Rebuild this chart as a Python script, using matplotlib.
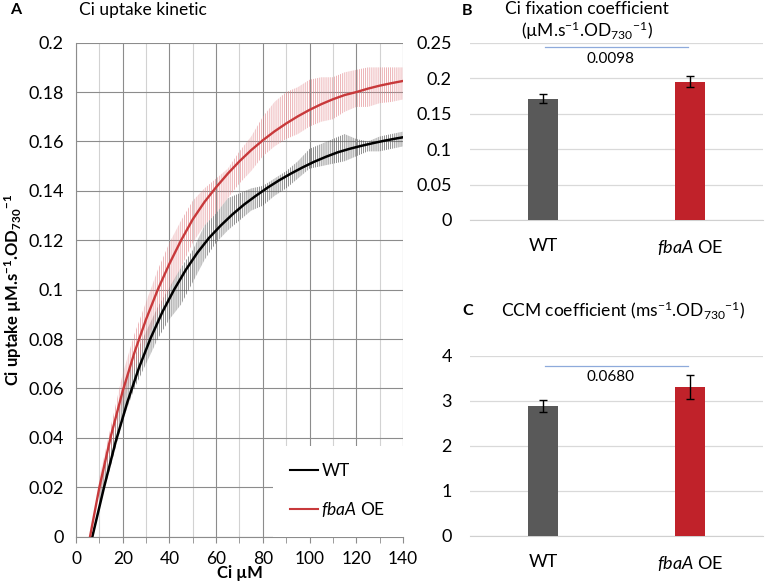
import numpy as np
import matplotlib
matplotlib.use("Agg")
import matplotlib.pyplot as plt
from matplotlib.lines import Line2D

plt.rcParams['font.family'] = ['Lato', 'DejaVu Sans']
plt.rcParams['mathtext.fontset'] = 'custom'
plt.rcParams['mathtext.rm'] = 'Lato'
plt.rcParams['mathtext.it'] = 'Lato:italic'
plt.rcParams['mathtext.bf'] = 'Lato:bold'
plt.rcParams['hatch.linewidth'] = 0.55

# ---- Panel A: Ci uptake kinetic (fit lines) ----
wt_fit_x = [7, 12, 17, 22, 27, 32, 37, 42, 47, 52, 57, 62, 67, 72, 77, 82, 87, 92, 97, 102,
            107, 112, 117, 122, 127, 132, 137, 140]
wt_fit_y = [0.0, 0.02, 0.0385, 0.0545, 0.0685, 0.0805, 0.091, 0.100, 0.108, 0.115, 0.121,
            0.126, 0.1305, 0.1345, 0.138, 0.1413, 0.1443, 0.147, 0.1495, 0.1518, 0.1538,
            0.1556, 0.157, 0.1582, 0.1593, 0.1603, 0.1612, 0.1617]
oe_fit_x = [6, 10, 15, 20, 25, 30, 35, 40, 45, 50, 55, 60, 65, 70, 75, 80, 85, 90, 95, 100,
            105, 110, 115, 120, 125, 130, 135, 140]
oe_fit_y = [0.0, 0.02, 0.041, 0.059, 0.0745, 0.088, 0.100, 0.1105, 0.120, 0.1285, 0.1355,
            0.1415, 0.147, 0.152, 0.1565, 0.1605, 0.1641, 0.1673, 0.1702, 0.1728, 0.1751,
            0.1771, 0.1788, 0.180, 0.1814, 0.1826, 0.1836, 0.1845]

# error envelopes of the measured traces
band_x = [10, 15, 20, 25, 30, 35, 40, 45, 50, 55, 60, 65, 70, 75, 80, 85, 90, 95, 100,
          105, 110, 115, 120, 125, 130, 135, 140]
wt_low = [0.012, 0.029, 0.047, 0.060, 0.070, 0.080, 0.088, 0.094, 0.103, 0.112, 0.119, 0.124,
          0.128, 0.132, 0.134, 0.138, 0.141, 0.145, 0.149, 0.150, 0.151, 0.152, 0.154, 0.156,
          0.156, 0.157, 0.158]
wt_high = [0.020, 0.041, 0.060, 0.073, 0.083, 0.093, 0.101, 0.109, 0.116, 0.126, 0.131, 0.137,
           0.139, 0.141, 0.142, 0.145, 0.148, 0.152, 0.157, 0.159, 0.161, 0.163, 0.161, 0.160,
           0.162, 0.163, 0.164]
oe_low = [0.016, 0.035, 0.054, 0.068, 0.079, 0.090, 0.100, 0.109, 0.119, 0.126, 0.131, 0.137,
          0.143, 0.148, 0.154, 0.158, 0.161, 0.163, 0.166, 0.168, 0.169, 0.172, 0.174, 0.174,
          0.1755, 0.176, 0.177]
oe_high = [0.024, 0.045, 0.066, 0.082, 0.095, 0.108, 0.119, 0.128, 0.136, 0.141, 0.145, 0.149,
           0.156, 0.162, 0.170, 0.176, 0.180, 0.182, 0.185, 0.186, 0.186, 0.188, 0.189, 0.190,
           0.190, 0.190, 0.190]

# ---- Panels B and C: bars ----
groups = ["WT", r"$\it{fbaA}$ OE"]
fix_vals = [0.171, 0.195]
fix_err = [0.006, 0.0075]
fix_p = "0.0098"
ccm_vals = [2.88, 3.30]
ccm_err = [0.13, 0.265]
ccm_p = "0.0680"

red = "#c8393b"
bar_cols = ["#595959", "#c0222a"]

fig = plt.figure(figsize=(7.67, 5.88), dpi=100)

# Panel A
axA = fig.add_axes([0.0991, 0.0873, 0.4263, 0.8401])
axA.fill_between(band_x, wt_low, wt_high, facecolor='none', edgecolor=(0.3, 0.3, 0.3, 0.8),
                 hatch='||||||||', linewidth=0)
axA.fill_between(band_x, oe_low, oe_high, facecolor='none', edgecolor=(0.88, 0.5, 0.52, 0.75),
                 hatch='||||||||', linewidth=0)
axA.plot(wt_fit_x, wt_fit_y, color='black', lw=1.8, zorder=4)
axA.plot(oe_fit_x, oe_fit_y, color=red, lw=1.7, zorder=4)
axA.set_xlim(0, 140)
axA.set_ylim(0, 0.2)
axA.set_xticks(np.arange(0, 141, 20))
axA.set_xticks(np.arange(10, 141, 20), minor=True)
axA.set_yticks(np.arange(0, 0.201, 0.02))
axA.set_yticklabels(["0", "0.02", "0.04", "0.06", "0.08", "0.1", "0.12", "0.14", "0.16", "0.18", "0.2"])
axA.grid(which='major', color='#8c8c8c', lw=0.8)
axA.grid(which='minor', axis='x', color='#d2d2d2', lw=0.8)
axA.set_axisbelow(True)
for s in ['top', 'right']:
    axA.spines[s].set_visible(False)
for s in ['left', 'bottom']:
    axA.spines[s].set_color('#8c8c8c')
axA.tick_params(axis='y', length=0, pad=9, labelsize=13)
axA.tick_params(axis='x', which='both', length=4, color='#8c8c8c', pad=6, labelsize=12.5)
axA.set_xlabel("Ci µM", fontweight='bold', fontsize=12, labelpad=-1)
axA.set_ylabel(r"Ci uptake µM.s$^{\mathbf{-1}}$.OD$_{\mathbf{730}}$$^{\mathbf{-1}}$",
               fontweight='bold', fontsize=12, labelpad=3)
handles = [Line2D([], [], color='black', lw=1.5), Line2D([], [], color=red, lw=1.5)]
leg = axA.legend(handles, ["WT", r"$\it{fbaA}$ OE"], loc='lower right', fontsize=12.5,
                 frameon=True, fancybox=False, framealpha=1, edgecolor='white',
                 handlelength=1.6, handletextpad=0.2, labelspacing=1.2,
                 borderpad=1.0, borderaxespad=0.0)
leg.get_frame().set_linewidth(0)

fig.text(10 / 767, 1 - 10 / 588, "A", fontweight='bold', fontsize=11.5, va='center')
fig.text(79 / 767, 1 - 10 / 588, "Ci uptake kinetic", fontsize=12.5, va='center')


def bar_panel(rect, vals, errs, ylim, ticks, ticklabels, pval, line_y, text_y):
    ax = fig.add_axes(rect)
    ax.bar([0, 1], vals, width=0.205, color=bar_cols, zorder=3)
    ax.errorbar([0, 1], vals, yerr=errs, fmt='none', ecolor='black', elinewidth=1,
                capsize=3, capthick=1, zorder=4)
    ax.set_xlim(-0.5, 1.5)
    ax.set_ylim(*ylim)
    ax.set_yticks(ticks)
    ax.set_yticklabels(ticklabels)
    ax.set_xticks([0, 1])
    ax.set_xticklabels(groups)
    ax.grid(axis='y', color='#d9d9d9', lw=0.9)
    ax.set_axisbelow(True)
    for s in ['top', 'right', 'left']:
        ax.spines[s].set_visible(False)
    ax.spines['bottom'].set_color('#d0d0d0')
    ax.tick_params(axis='y', length=0, pad=13, labelsize=13)
    ax.tick_params(axis='x', length=0, pad=13, labelsize=13)
    ax.plot([0.01, 0.99], [line_y, line_y], color='#8eaadb', lw=0.9, clip_on=False, zorder=5)
    ax.text(0.46, text_y, pval, ha='center', va='center', fontsize=11)
    return ax


bar_panel([0.6128, 0.6259, 0.382, 0.3015], fix_vals, fix_err, (0, 0.25),
          np.arange(0, 0.251, 0.05), ["0", "0.05", "0.1", "0.15", "0.2", "0.25"],
          fix_p, 0.2435, 0.227)
bar_panel([0.6128, 0.0889, 0.382, 0.3062], ccm_vals, ccm_err, (0, 4),
          np.arange(0, 4.01, 1), ["0", "1", "2", "3", "4"],
          ccm_p, 3.77, 3.53)

fig.text(462 / 767, 1 - 11 / 588, "B", fontweight='bold', fontsize=11.5, va='center')
fig.text(587 / 767, 1 - 9 / 588, "Ci fixation coefficient", fontsize=12.5, va='center', ha='center')
fig.text(587 / 767, 1 - 31 / 588, r"(µM.s$^{-1}$.OD$_{730}$$^{-1}$)", fontsize=12.5,
         va='center', ha='center')
fig.text(462 / 767, 1 - 311 / 588, "C", fontweight='bold', fontsize=11.5, va='center')
fig.text(623 / 767, 1 - 310 / 588, r"CCM coefficient (ms$^{-1}$.OD$_{730}$$^{-1}$)", fontsize=12.5,
         va='center', ha='center')

fig.savefig("out.png", dpi=100)
